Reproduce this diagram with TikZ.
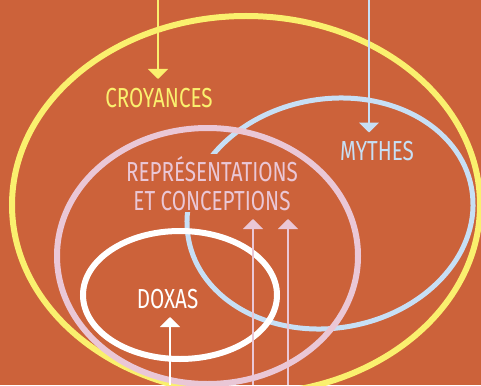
\documentclass[tikz,border=0pt]{standalone}
\usepackage{fontspec}
\usepackage{tikz}
\usetikzlibrary{arrows.meta}
\newfontfamily\handfont[FakeStretch=0.75]{Fira Sans}
\definecolor{bgorange}{HTML}{CC623A}
\definecolor{ringyellow}{HTML}{FAF06E}
\definecolor{ringpink}{HTML}{EAC7D6}
\definecolor{ringblue}{HTML}{C7DFF5}

\begin{document}
\begin{tikzpicture}[x=1pt,y=-1pt,->,>={Triangle[width=20pt,length=10pt]},line width=2pt,
  ring/.style={-,line width=6pt},
  word/.style={font=\handfont\fontsize{27.5}{28.5}\selectfont,inner sep=8pt,text height=19pt,text depth=0pt}]
  \useasboundingbox[fill=bgorange] (0,0) rectangle (481,385);
  % the four sets
  \draw[ring,ringyellow] (246,205) ellipse [x radius=234, y radius=189];
  \draw[ring,ringblue,line width=5pt,rotate around={10:(330,213.5)}] (330,213.5) ellipse [x radius=143.8, y radius=114.5];
  \node[word,text height=,inner ysep=2pt,text=ringpink,fill=bgorange,align=center,anchor=south] (rep) at (212,213) {REPRÉSENTATIONS\\ET CONCEPTIONS};
  \draw[ring,ringpink] (207.5,256) ellipse [x radius=150.5, y radius=128];
  \draw[ring,white] (180,295) ellipse [x radius=97, y radius=64];
  % labels
  \node[word,text=ringyellow] (croy) at (159,97.5) {CROYANCES};
  \node[word,text=ringblue] (mythes) at (377,151) {MYTHES};
  \node[word,text=white] (doxas) at (167.5,298.5) {DOXAS};
  % arrows
  \coordinate (ytop) at (158,0);
  \coordinate (btop) at (369,0);
  \coordinate (wbot) at (170,385);
  \coordinate (pbot1) at (253,385);
  \coordinate (pbot2) at (288,385);
  \draw[ringyellow] (ytop) -- (ytop |- croy.north);
  \draw[ringblue] (btop) -- (btop |- mythes.north);
  \draw[white] (wbot) -- (wbot |- doxas.south);
  \draw[ringpink] (pbot1) -- ([yshift=-6pt]pbot1 |- rep.south);
  \draw[ringpink] (pbot2) -- ([yshift=-6pt]pbot2 |- rep.south);
\end{tikzpicture}
\end{document}
